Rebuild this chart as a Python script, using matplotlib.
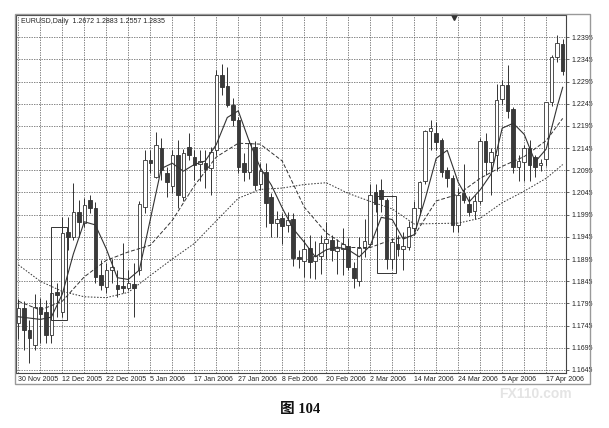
import matplotlib
matplotlib.use("Agg")
import matplotlib.pyplot as plt
from matplotlib.patches import Rectangle

# EURUSD daily bars, 30 Nov 2005 .. 20 Apr 2006
opens = [1.1750, 1.1785, 1.1735, 1.1702, 1.1786, 1.1775, 1.1724, 1.1820, 1.1776, 1.1955,
         1.1945, 1.2001, 1.1976, 1.2028, 1.2010, 1.1859, 1.1832, 1.1870, 1.1837, 1.1834,
         1.1829, 1.1838, 1.1870, 1.2012, 1.2118, 1.2080, 1.2145, 1.2089, 1.2060, 1.2130,
         1.2035, 1.2147, 1.2125, 1.2109, 1.2112, 1.2100, 1.2140, 1.2310, 1.2285, 1.2243,
         1.2208, 1.2111, 1.2092, 1.2148, 1.2065, 1.2092, 1.2035, 1.1977, 1.1988, 1.1972,
         1.1986, 1.1900, 1.1890, 1.1920, 1.1890, 1.1902, 1.1932, 1.1938, 1.1914, 1.1918,
         1.1925, 1.1875, 1.1845, 1.1920, 1.1930, 1.2045, 1.2050, 1.2028, 1.1895, 1.1930,
         1.1917, 1.1923, 1.1965, 1.2010, 1.2070, 1.2183, 1.2180, 1.2163, 1.2095, 1.2078,
         1.1972, 1.2043, 1.2020, 1.2003, 1.2025, 1.2162, 1.2113, 1.2130, 1.2255, 1.2288,
         1.2233, 1.2102, 1.2113, 1.2145, 1.2125, 1.2108, 1.2120, 1.2248, 1.2350, 1.2380]
highs = [1.1805, 1.1800, 1.1757, 1.1817, 1.1808, 1.1802, 1.1840, 1.1840, 1.1990, 1.1990,
         1.2066, 1.2028, 1.2033, 1.2039, 1.2023, 1.1893, 1.1886, 1.1895, 1.1870, 1.1931,
         1.1870, 1.1885, 1.2025, 1.2140, 1.2140, 1.2181, 1.2168, 1.2102, 1.2140, 1.2163,
         1.2142, 1.2178, 1.2140, 1.2140, 1.2140, 1.2147, 1.2320, 1.2335, 1.2328, 1.2258,
         1.2215, 1.2135, 1.2163, 1.2160, 1.2111, 1.2111, 1.2044, 1.2004, 1.1999, 1.2000,
         1.1999, 1.1915, 1.1940, 1.1950, 1.1935, 1.1950, 1.1978, 1.1950, 1.1940, 1.1964,
         1.1942, 1.1888, 1.1945, 1.1985, 1.2065, 1.2065, 1.2075, 1.2032, 1.1943, 1.1950,
         1.1955, 1.1980, 1.2025, 1.2072, 1.2185, 1.2208, 1.2203, 1.2167, 1.2103, 1.2085,
         1.2055, 1.2110, 1.2038, 1.2040, 1.2167, 1.2180, 1.2145, 1.2290, 1.2298, 1.2333,
         1.2237, 1.2130, 1.2152, 1.2163, 1.2130, 1.2120, 1.2250, 1.2355, 1.2400, 1.2392]
lows = [1.1715, 1.1690, 1.1660, 1.1690, 1.1705, 1.1705, 1.1705, 1.1765, 1.1765, 1.1915,
        1.1938, 1.1945, 1.1967, 1.1999, 1.1841, 1.1825, 1.1818, 1.1840, 1.1810, 1.1818,
        1.1825, 1.1765, 1.1860, 1.1998, 1.2089, 1.2078, 1.2073, 1.2035, 1.2044, 1.2010,
        1.2025, 1.2118, 1.2073, 1.2070, 1.2055, 1.2040, 1.2130, 1.2265, 1.2238, 1.2195,
        1.2088, 1.2070, 1.2075, 1.2050, 1.2050, 1.1968, 1.1945, 1.1945, 1.1930, 1.1955,
        1.1880, 1.1875, 1.1855, 1.1852, 1.1850, 1.1862, 1.1895, 1.1890, 1.1862, 1.1860,
        1.1870, 1.1830, 1.1835, 1.1900, 1.1925, 1.2000, 1.2000, 1.1872, 1.1872, 1.1902,
        1.1870, 1.1915, 1.1957, 1.1995, 1.2065, 1.2140, 1.2140, 1.2080, 1.2058, 1.1955,
        1.1955, 1.2022, 1.1992, 1.1985, 1.2020, 1.2085, 1.2040, 1.2093, 1.2245, 1.2213,
        1.2090, 1.2070, 1.2070, 1.2072, 1.2080, 1.2094, 1.2105, 1.2240, 1.2340, 1.2310]
closes = [1.1785, 1.1735, 1.1718, 1.1786, 1.1772, 1.1724, 1.1818, 1.1814, 1.1953, 1.1945,
          1.2001, 1.1978, 1.2017, 1.2010, 1.1855, 1.1836, 1.1870, 1.1878, 1.1828, 1.1830,
          1.1840, 1.1830, 1.2020, 1.2118, 1.2111, 1.2152, 1.2095, 1.2068, 1.2130, 1.2040,
          1.2134, 1.2129, 1.2107, 1.2115, 1.2097, 1.2136, 1.2310, 1.2283, 1.2243, 1.2208,
          1.2102, 1.2092, 1.2156, 1.2062, 1.2094, 1.2022, 1.1977, 1.1986, 1.1970, 1.1984,
          1.1897, 1.1895, 1.1917, 1.1889, 1.1902, 1.1931, 1.1940, 1.1915, 1.1920, 1.1930,
          1.1877, 1.1852, 1.1920, 1.1935, 1.2040, 1.2020, 1.2030, 1.1895, 1.1933, 1.1917,
          1.1925, 1.1967, 1.2010, 1.2068, 1.2183, 1.2190, 1.2158, 1.2092, 1.2078, 1.1972,
          1.2040, 1.2029, 1.2000, 1.2025, 1.2162, 1.2113, 1.2136, 1.2253, 1.2288, 1.2228,
          1.2102, 1.2115, 1.2145, 1.2107, 1.2103, 1.2112, 1.2248, 1.2350, 1.2382, 1.2318]

# moving average lines, read at sampled bars
ma_fast_idx = list(range(0, 100, 2)) + [99]
ma_fast = [1.1765, 1.1762, 1.1759, 1.1764, 1.1816, 1.1906, 1.1979, 1.1972, 1.1918, 1.1853,
           1.1849, 1.1870, 1.1984, 1.2099, 1.2111, 1.2093, 1.2108, 1.2116, 1.2153, 1.2214,
           1.2229, 1.2160, 1.2101, 1.2062, 1.2010, 1.1963, 1.1933, 1.1900, 1.1916, 1.1922,
           1.1916, 1.1900, 1.1925, 1.1989, 1.1984, 1.1940, 1.1950, 1.2031, 1.2122, 1.2140,
           1.2068, 1.2024, 1.2051, 1.2087, 1.2190, 1.2201, 1.2176, 1.2114, 1.2143, 1.2239,
           1.2282]
ma_slow_idx = list(range(0, 100, 4)) + [99]
ma_mid = [1.1800, 1.1780, 1.1800, 1.1855, 1.1892, 1.1911, 1.1926, 1.1982, 1.2060, 1.2125,
          1.2156, 1.2154, 1.2116, 1.2012, 1.1954, 1.1921, 1.1921, 1.1939, 1.1948, 1.2026,
          1.2041, 1.2077, 1.2104, 1.2126, 1.2162, 1.2212]
ma_long = [1.1882, 1.1845, 1.1822, 1.1810, 1.1808, 1.1820, 1.1858, 1.1895, 1.1930, 1.1981,
           1.2032, 1.2052, 1.2055, 1.2063, 1.2067, 1.2043, 1.2025, 1.2008, 1.1974, 1.1975,
           1.1976, 1.1987, 1.2022, 1.2048, 1.2077, 1.2108]

date_pos = list(range(0, 100, 8))
date_labels = ["30 Nov 2005", "12 Dec 2005", "22 Dec 2005", "5 Jan 2006", "17 Jan 2006",
               "27 Jan 2006", "8 Feb 2006", "20 Feb 2006", "2 Mar 2006", "14 Mar 2006",
               "24 Mar 2006", "5 Apr 2006", "17 Apr 2006"]
price_levels = [1.1645, 1.1695, 1.1745, 1.1795, 1.1845, 1.1895, 1.1945, 1.1995,
                1.2045, 1.2095, 1.2145, 1.2195, 1.2245, 1.2295, 1.2345, 1.2395]

INK = "#333333"
W, H = 609, 428

fig = plt.figure(figsize=(W / 100, H / 100), dpi=100)
fig.patch.set_facecolor("white")
ax = fig.add_axes([16 / W, 1 - 373 / H, 550 / W, 358 / H])
ax.set_xlim(-0.42, 99.6)
ax.set_ylim(1.16382, 1.24450)

# grid
for lv in price_levels:
    ax.axhline(lv, color="#555555", lw=0.5, ls=(0, (2, 1.6)), zorder=1)
for gx in range(0, 100, 4):
    ax.axvline(gx, color="#555555", lw=0.5, ls=(0, (2, 1.6)), zorder=1)

# candles
for i in range(len(closes)):
    o, h, l, c = opens[i], highs[i], lows[i], closes[i]
    ax.vlines(i, l, h, color=INK, lw=0.7, zorder=2)
    bottom = min(o, c)
    height = max(abs(c - o), 0.00015)
    face = "white" if c >= o else "#3a3a3a"
    ax.add_patch(Rectangle((i - 0.32, bottom), 0.64, height, facecolor=face,
                           edgecolor=INK, lw=0.6, zorder=3))

# moving averages
ax.plot(ma_fast_idx, ma_fast, color=INK, lw=0.8, zorder=4)
ax.plot(ma_slow_idx, ma_mid, color=INK, lw=0.7, ls=(0, (4, 2)), zorder=4)
ax.plot(ma_slow_idx, ma_long, color=INK, lw=0.7, ls=(0, (1.6, 1.6)), zorder=4)

# marked boxes
ax.add_patch(Rectangle((5.9, 1.1758), 3.0, 1.1967 - 1.1758, fill=False,
                       edgecolor=INK, lw=0.7, zorder=5))
ax.add_patch(Rectangle((65.3, 1.1863), 3.4, 1.2036 - 1.1863, fill=False,
                       edgecolor=INK, lw=0.7, zorder=5))

# shift marker at the top
ax.plot([79.2], [1.2441], marker="v", ms=4, color=INK, clip_on=False, zorder=6)

# axes / labels
for s in ax.spines.values():
    s.set_color("#444444")
    s.set_linewidth(0.8)
ax.yaxis.tick_right()
ax.set_yticks(price_levels)
ax.set_yticklabels([f"{v:.4f}" for v in price_levels], fontsize=5,
                   family="Liberation Sans", color="#222222")
ax.tick_params(axis="y", length=2, width=0.5, pad=2, colors="#222222")
ax.set_xticks(date_pos)
ax.set_xticklabels(date_labels, fontsize=5, family="Liberation Sans",
                   color="#222222", ha="left")
ax.tick_params(axis="x", length=0, pad=2)

ax.text(0.009, 0.981, "EURUSD,Daily  1.2672 1.2883 1.2557 1.2835",
        transform=ax.transAxes, fontsize=5, family="Liberation Sans",
        color="#222222", va="center", ha="left")

# outer frame
fig.patches.append(Rectangle((15 / W, 1 - 384 / H), 575 / W, 370 / H,
                             transform=fig.transFigure, fill=False,
                             edgecolor="#999999", lw=1.0))

fig.text(535 / W, 1 - 394 / H, "FX110.com", fontsize=10, fontweight="bold",
         color="#e4e4e4", ha="center", va="center", family="Liberation Sans")
fig.text(300 / W, 1 - 410 / H, "图 104", fontsize=10.5, fontweight="bold",
         ha="center", va="center", color="#111111",
         family=["Liberation Serif", "Noto Sans CJK SC"])

fig.savefig("out.png", dpi=100, facecolor="white")
